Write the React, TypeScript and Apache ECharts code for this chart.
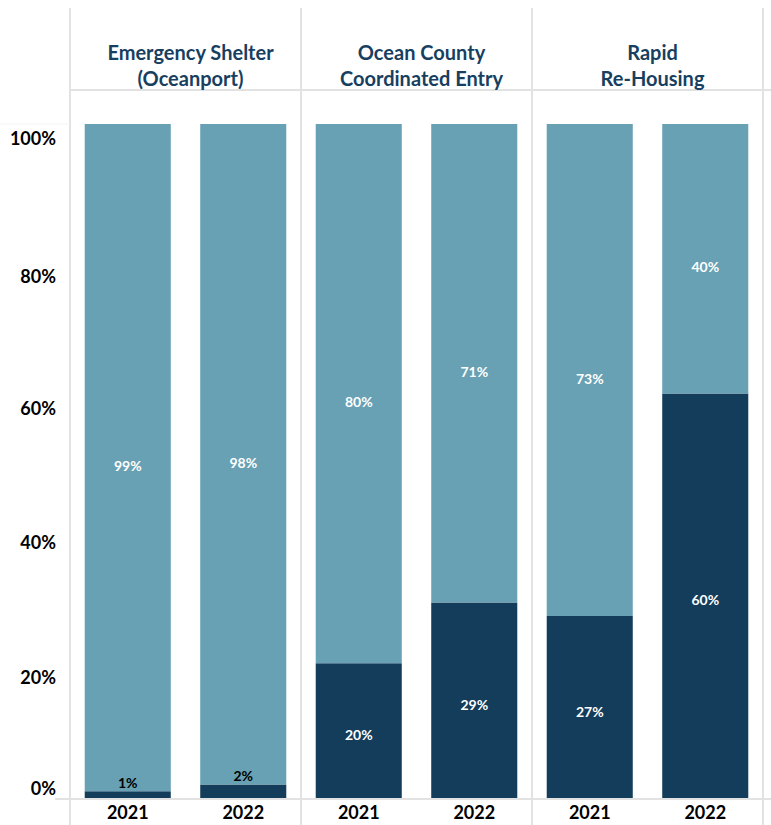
import React, { useEffect, useRef } from "react";
import * as echarts from "echarts";

const programs = ["Emergency Shelter\n(Oceanport)", "Ocean County\nCoordinated Entry", "Rapid\nRe-Housing"];
const years = ["2021", "2022"];
const darkValues = [
  [1, 2],
  [20, 29],
  [27, 60],
];
const lightValues = [
  [99, 98],
  [80, 71],
  [73, 40],
];

const DARK = "#143d5c";
const LIGHT = "#67a1b3";
const HEAD = "#183f5f";
const FONT = "Lato";

export default function App() {
  const ref = useRef<HTMLDivElement>(null);
  useEffect(() => {
    document.body.style.margin = "0";
    const chart = echarts.init(ref.current!, null, { renderer: "svg" });
    const panelLeft = 70;
    const panelW = 231;
    const top = 124;
    const height = 674;
    const grids = programs.map((_, i) => ({
      left: panelLeft + i * panelW,
      width: panelW,
      top,
      height,
    }));
    const xAxes = programs.map((_, i) => ({
      type: "category",
      gridIndex: i,
      data: years,
      axisLine: { show: false },
      axisTick: { show: false },
      axisLabel: {
        margin: 5,
        color: "#000",
        fontFamily: FONT,
        fontWeight: "bold",
        fontSize: 18,
        lineHeight: 18,
      },
    }));
    const yAxes = programs.map((_, i) => ({
      type: "value",
      gridIndex: i,
      min: 0,
      max: 100,
      interval: 20,
      splitLine: { show: false },
      axisLine: { show: false },
      axisTick: { show: false },
      axisLabel: {
        show: i === 0,
        margin: 14,
        formatter: (v: number) => (v === 0 ? `{z|${v}%}` : v === 80 ? `{b|${v}%}` : `{a|${v}%}`),
        rich: {
          a: { padding: [28, 0, 0, 0], color: "#000", fontFamily: FONT, fontWeight: "bold", fontSize: 18 },
          b: { padding: [34, 0, 0, 0], color: "#000", fontFamily: FONT, fontWeight: "bold", fontSize: 18 },
          z: { padding: [0, 0, 20, 0], color: "#000", fontFamily: FONT, fontWeight: "bold", fontSize: 18 },
        },
      },
    }));
    const series: any[] = [];
    programs.forEach((_, i) => {
      series.push({
        type: "bar",
        name: "dark" + i,
        stack: "s" + i,
        xAxisIndex: i,
        yAxisIndex: i,
        barCategoryGap: "25.5%",
        itemStyle: { color: DARK },
        label: {
          show: true,
          position: "inside",
          offset: [0, 4],
          formatter: "{c}%",
          color: "#fff",
          fontFamily: FONT,
          fontWeight: "bold",
          fontSize: 14,
        },
        data: darkValues[i].map((v) =>
          v < 5
            ? { value: v, label: { position: "top", offset: [0, 0], color: "#000", distance: 2 } }
            : { value: v }
        ),
      });
      series.push({
        type: "bar",
        name: "light" + i,
        stack: "s" + i,
        xAxisIndex: i,
        yAxisIndex: i,
        barCategoryGap: "25.5%",
        itemStyle: { color: LIGHT },
        label: {
          show: true,
          position: "inside",
          offset: [0, 8],
          formatter: "{c}%",
          color: "#fff",
          fontFamily: FONT,
          fontWeight: "bold",
          fontSize: 14,
        },
        data: lightValues[i],
      });
    });
    const lineStyle = { stroke: "#e2e2e2", lineWidth: 2 };
    const graphic: any[] = [];
    [0, 1, 2, 3].forEach((k) => {
      const x = panelLeft + k * panelW;
      graphic.push({ type: "line", shape: { x1: x, y1: 8, x2: x, y2: 825 }, style: lineStyle, silent: true });
    });
    graphic.push({ type: "line", shape: { x1: 70, y1: 90, x2: 771, y2: 90 }, style: lineStyle, silent: true });
    graphic.push({ type: "line", shape: { x1: 55, y1: 799, x2: 771, y2: 799 }, style: lineStyle, silent: true });
    graphic.push({ type: "line", shape: { x1: 0, y1: 124, x2: 70, y2: 124 }, style: { stroke: "#f3f3f3", lineWidth: 1 }, silent: true });

    chart.setOption({
      animation: false,
      backgroundColor: "#fff",
      title: programs.map((p, i) => ({
        text: p,
        left: panelLeft + i * panelW + panelW / 2,
        top: 34,
        textAlign: "center",
        textStyle: {
          color: HEAD,
          fontFamily: FONT,
          fontWeight: "bold",
          fontSize: 20,
          lineHeight: 26,
        },
      })),
      grid: grids,
      xAxis: xAxes,
      yAxis: yAxes,
      series,
      graphic,
    });
    return () => chart.dispose();
  }, []);
  return <div ref={ref} style={{ width: 771, height: 825 }} />;
}
